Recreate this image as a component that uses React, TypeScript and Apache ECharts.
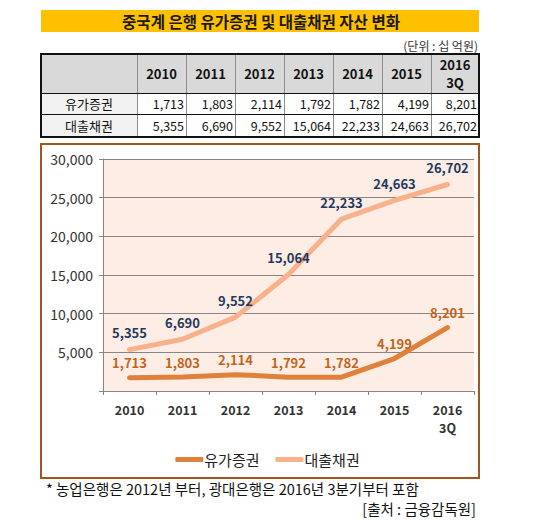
import React, { useEffect, useRef } from "react";
import * as echarts from "echarts";

const categories = ["2010", "2011", "2012", "2013", "2014", "2015", "2016\n3Q"];
const securities = [1713, 1803, 2114, 1792, 1782, 4199, 8201];
const loans = [5355, 6690, 9552, 15064, 22233, 24663, 26702];
const seriesNames = ["유가증권", "대출채권"];
const yTicks = { min: 0, max: 30000, interval: 5000 };
const titleText = "중국계 은행 유가증권 및 대출채권 자산 변화";
const unitText = "(단위 : 십 억원)";
const footnote = "* 농업은행은 2012년 부터, 광대은행은 2016년 3분기부터 포함";
const sourceText = "[출처 : 금융감독원]";

const FONT = "'Noto Sans CJK KR', 'Noto Sans', sans-serif";
const fmt = (v: number) => v.toLocaleString("en-US");

export default function App() {
  const ref = useRef<HTMLDivElement>(null);
  useEffect(() => {
    if (!ref.current) return;
    const chart = echarts.init(ref.current, null, { renderer: "svg" });

    const colX = [41, 137, 186, 235, 284, 333, 382, 431, 479];
    const rowY = [54, 93, 114, 137];
    const tableRows = [securities, loans];
    const graphics: any[] = [];

    // title bar
    graphics.push({ type: "rect", shape: { x: 41, y: 10, width: 438, height: 22 }, style: { fill: "#FFC000" } });
    graphics.push({
      type: "text", x: 261, y: 21,
      style: { text: titleText, font: `bold 15.5px ${FONT}`, fill: "#1a1a1a", align: "center", verticalAlign: "middle" },
    });
    graphics.push({
      type: "text", x: 478, y: 45,
      style: { text: unitText, font: `12px ${FONT}`, fill: "#333", align: "right", verticalAlign: "middle" },
    });

    // table backgrounds
    graphics.push({ type: "rect", shape: { x: colX[0], y: rowY[0], width: colX[8] - colX[0], height: rowY[1] - rowY[0] }, style: { fill: "#D9D9D9" } });
    graphics.push({ type: "rect", shape: { x: colX[0], y: rowY[1], width: colX[1] - colX[0], height: rowY[3] - rowY[1] }, style: { fill: "#F2F2F2" } });
    for (let i = 1; i < colX.length - 1; i++) {
      graphics.push({ type: "line", shape: { x1: colX[i] + 0.5, y1: rowY[0], x2: colX[i] + 0.5, y2: rowY[3] }, style: { stroke: "#8c8c8c", lineWidth: 1 } });
    }
    for (let j = 1; j < rowY.length - 1; j++) {
      graphics.push({ type: "line", shape: { x1: colX[0], y1: rowY[j] + 0.5, x2: colX[8], y2: rowY[j] + 0.5 }, style: { stroke: "#111", lineWidth: 1 } });
    }
    graphics.push({ type: "rect", shape: { x: colX[0], y: rowY[0], width: colX[8] - colX[0], height: rowY[3] - rowY[0] }, style: { fill: "none", stroke: "#111", lineWidth: 2 } });
    categories.forEach((c, i) => {
      graphics.push({
        type: "text", x: (colX[i + 1] + colX[i + 2]) / 2, y: (rowY[0] + rowY[1]) / 2,
        style: { text: c, font: `bold 13px ${FONT}`, fill: "#111", align: "center", verticalAlign: "middle", lineHeight: 18 },
      });
    });
    tableRows.forEach((row, r) => {
      const cy = (rowY[r + 1] + rowY[r + 2]) / 2;
      graphics.push({
        type: "text", x: (colX[0] + colX[1]) / 2, y: cy,
        style: { text: seriesNames[r], font: `13px ${FONT}`, fill: "#111", align: "center", verticalAlign: "middle" },
      });
      row.forEach((v, i) => {
        graphics.push({
          type: "text", x: colX[i + 2] - 2, y: cy,
          style: { text: fmt(v), font: `12.5px ${FONT}`, fill: "#111", align: "right", verticalAlign: "middle" },
        });
      });
    });

    // chart box
    graphics.push({ type: "rect", shape: { x: 41, y: 144, width: 438, height: 334 }, style: { fill: "none", stroke: "#A0561E", lineWidth: 2 } });

    // footnotes
    graphics.push({
      type: "text", x: 46, y: 488,
      style: { text: footnote, font: `14.5px ${FONT}`, fill: "#111", align: "left", verticalAlign: "middle" },
    });
    graphics.push({
      type: "text", x: 476, y: 508,
      style: { text: sourceText, font: `14.5px ${FONT}`, fill: "#111", align: "right", verticalAlign: "middle" },
    });

    chart.setOption({
      animation: false,
      backgroundColor: "#ffffff",
      textStyle: { fontFamily: FONT },
      graphic: { elements: graphics },
      grid: {
        left: 103, right: 61, top: 159, bottom: 129,
        show: true, backgroundColor: "#FDEDE4", borderWidth: 0,
      },
      legend: {
        data: seriesNames,
        top: 447, left: "center",
        icon: "roundRect", itemWidth: 28, itemHeight: 5, itemGap: 16,
        textStyle: { fontSize: 15, color: "#222", fontFamily: FONT, padding: [0, 0, 0, -4] },
      },
      xAxis: {
        type: "category",
        data: categories,
        boundaryGap: true,
        axisLine: { show: true, lineStyle: { color: "#868686" } },
        axisTick: { show: true, length: 4, lineStyle: { color: "#868686" } },
        axisLabel: { color: "#333", fontSize: 12.5, fontWeight: "bold", margin: 9, lineHeight: 18, fontFamily: FONT },
      },
      yAxis: {
        type: "value",
        min: yTicks.min, max: yTicks.max, interval: yTicks.interval,
        axisLine: { show: true, lineStyle: { color: "#868686" } },
        axisTick: { show: true, length: 4, lineStyle: { color: "#868686" } },
        splitLine: { show: true, lineStyle: { color: "#868686", width: 1 } },
        axisLabel: {
          color: "#333", fontSize: 14, margin: 10, fontFamily: FONT,
          formatter: (v: number) => (v === 0 ? "" : fmt(v)),
        },
      },
      series: [
        {
          name: seriesNames[0], type: "line", data: securities,
          color: "#E0813B",
          symbol: "circle", symbolSize: 1,
          lineStyle: { width: 5, color: "#E0813B", cap: "round", join: "round" },
          label: {
            show: true, position: "top", distance: 8,
            color: "#C0651E", fontWeight: "bold", fontSize: 13, fontFamily: FONT,
            formatter: (p: any) => fmt(p.value),
          },
        },
        {
          name: seriesNames[1], type: "line", data: loans,
          color: "#F8B18B",
          symbol: "circle", symbolSize: 1,
          lineStyle: { width: 5, color: "#F8B18B", cap: "round", join: "round" },
          label: {
            show: true, position: "top", distance: 10,
            color: "#1F3A60", fontWeight: "bold", fontSize: 13, fontFamily: FONT,
            formatter: (p: any) => fmt(p.value),
          },
        },
      ],
    });
    return () => chart.dispose();
  }, []);

  return (
    <div style={{ position: "fixed", left: 0, top: 0, width: 535, height: 520, background: "#fff" }}>
      <div ref={ref} style={{ width: 535, height: 520 }} />
    </div>
  );
}
